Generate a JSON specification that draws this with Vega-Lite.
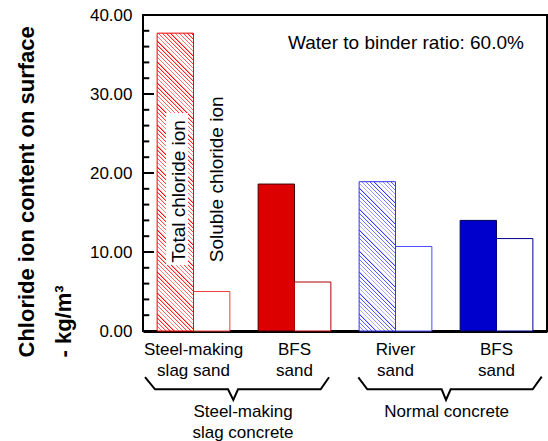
{
  "$schema": "https://vega.github.io/schema/vega-lite/v6.json",
  "width": 404,
  "height": 316,
  "autosize": {"type": "none"},
  "padding": {"left": 143, "top": 15, "right": 1, "bottom": 110},
  "background": "white",
  "config": {"view": {"stroke": "black", "strokeWidth": 2}, "font": "Liberation Sans", "text": {"font": "Liberation Sans", "color": "black"}},
  "datasets": {
    "bars": [
      {"mix": "Steel-making slag sand (SMS concrete)", "ion": "Total", "key": "s1t", "value": 37.7},
      {"mix": "Steel-making slag sand (SMS concrete)", "ion": "Soluble", "key": "s1s", "value": 5.0},
      {"mix": "BFS sand (SMS concrete)", "ion": "Total", "key": "s2t", "value": 18.6},
      {"mix": "BFS sand (SMS concrete)", "ion": "Soluble", "key": "s2s", "value": 6.2},
      {"mix": "River sand (normal concrete)", "ion": "Total", "key": "n1t", "value": 18.9},
      {"mix": "River sand (normal concrete)", "ion": "Soluble", "key": "n1s", "value": 10.7},
      {"mix": "BFS sand (normal concrete)", "ion": "Total", "key": "n2t", "value": 14.0},
      {"mix": "BFS sand (normal concrete)", "ion": "Soluble", "key": "n2s", "value": 11.7}
    ],
    "braces": [
      {"brace": "a", "u": 0.02, "value": -5.85},
      {"brace": "a", "u": 0.119, "value": -7.38},
      {"brace": "a", "u": 0.842, "value": -7.38},
      {"brace": "a", "u": 0.894, "value": -8.73},
      {"brace": "a", "u": 0.941, "value": -7.38},
      {"brace": "a", "u": 1.759, "value": -7.38},
      {"brace": "a", "u": 1.842, "value": -5.86},
      {"brace": "b", "u": 2.132, "value": -5.86},
      {"brace": "b", "u": 2.221, "value": -7.38},
      {"brace": "b", "u": 2.957, "value": -7.38},
      {"brace": "b", "u": 3.0, "value": -8.73},
      {"brace": "b", "u": 3.046, "value": -7.38},
      {"brace": "b", "u": 3.858, "value": -7.38},
      {"brace": "b", "u": 3.948, "value": -5.78}
    ],
    "yticks": [
      {"value": 2, "u": 0, "u2": 0.062}, {"value": 4, "u": 0, "u2": 0.062}, {"value": 6, "u": 0, "u2": 0.062}, {"value": 8, "u": 0, "u2": 0.062},
      {"value": 10, "u": 0, "u2": 0.109},
      {"value": 12, "u": 0, "u2": 0.062}, {"value": 14, "u": 0, "u2": 0.062}, {"value": 16, "u": 0, "u2": 0.062}, {"value": 18, "u": 0, "u2": 0.062},
      {"value": 20, "u": 0, "u2": 0.109},
      {"value": 22, "u": 0, "u2": 0.062}, {"value": 24, "u": 0, "u2": 0.062}, {"value": 26, "u": 0, "u2": 0.062}, {"value": 28, "u": 0, "u2": 0.062},
      {"value": 30, "u": 0, "u2": 0.109},
      {"value": 32, "u": 0, "u2": 0.062}, {"value": 34, "u": 0, "u2": 0.062}, {"value": 36, "u": 0, "u2": 0.062}, {"value": 38, "u": 0, "u2": 0.062}
    ],
    "box": [{"u": 0.228, "u2": 0.446, "value": 8.35, "value2": 27.6}],
    "rotated": [
      {"u": 0.416, "value": 8.65, "label": "Total chloride ion"},
      {"u": 0.789, "value": 8.7, "label": "Soluble chloride ion"}
    ],
    "note": [{"u": 1.436, "value": 35.66, "label": "Water to binder ratio: 60.0%"}],
    "groups": [
      {"u": 0.99, "value": -10.9, "label": "Steel-making"},
      {"u": 0.99, "value": -13.57, "label": "slag concrete"},
      {"u": 3.007, "value": -10.9, "label": "Normal concrete"}
    ]
  },
  "layer": [
    {
      "data": {"name": "bars"},
      "encoding": {
        "x": {
          "field": "mix", "type": "nominal", "sort": null,
          "scale": {"domain": ["Steel-making slag sand (SMS concrete)", "BFS sand (SMS concrete)", "River sand (normal concrete)", "BFS sand (normal concrete)"], "paddingInner": 0.28, "paddingOuter": 0.14},
          "axis": {
            "title": null,
            "labelExpr": "indexof(datum.value, 'Steel') == 0 ? ['Steel-making', 'slag sand'] : indexof(datum.value, 'River') == 0 ? ['River', 'sand'] : ['BFS', 'sand']",
            "labelAngle": 0, "labelFont": "Liberation Sans", "labelFontSize": 17, "labelColor": "black",
            "labelLineHeight": 21, "ticks": false, "tickSize": 0, "labelPadding": 10, "labelBaseline": "top",
            "domainColor": "black", "domainWidth": 3, "grid": false
          }
        },
        "xOffset": {"field": "ion", "type": "nominal", "scale": {"domain": ["Total", "Soluble"], "paddingInner": 0, "paddingOuter": 0}},
        "y": {
          "field": "value", "type": "quantitative", "stack": null,
          "scale": {"domain": [0, 40], "nice": false},
          "axis": {
            "orient": "left",
            "values": [0, 10, 20, 30, 40],
            "format": ".2f",
            "labelOverlap": false, "labelFont": "Liberation Sans", "labelFontSize": 17, "labelColor": "black",
            "labelPadding": 11, "ticks": false, "tickSize": 0,
            "domain": false, "grid": false,
            "title": ["Chloride ion content on surface", "- kg/m³"],
            "titleFont": "Liberation Sans", "titleFontSize": 22, "titleFontWeight": "bold", "titleColor": "black",
            "titleAngle": 270, "titleAlign": "left", "titleBaseline": "alphabetic",
            "titleX": -110, "titleY": 342, "titleLineHeight": 37.5
          }
        }
      },
      "layer": [
        {
          "transform": [{"filter": "datum.key != 's1t' && datum.key != 'n1t'"}],
          "mark": {"type": "bar", "strokeWidth": 1},
          "encoding": {
            "fill": {"field": "key", "type": "nominal", "legend": null, "scale": {"domain": ["s1s", "s2t", "s2s", "n1s", "n2t", "n2s"], "range": ["#ffffff", "#dd0000", "#ffffff", "#ffffff", "#0000cc", "#ffffff"]}},
            "stroke": {"field": "key", "type": "nominal", "legend": null, "scale": {"domain": ["s1s", "s2t", "s2s", "n1s", "n2t", "n2s"], "range": ["#f03c3c", "#440000", "#b00000", "#4a4aff", "#000055", "#000090"]}}
          }
        },
        {
          "transform": [{"filter": "datum.key == 's1t'"}],
          "mark": {"type": "bar", "stroke": "#ff0000", "strokeWidth": 1,
            "fill": {"gradient": "linear", "x1": 0, "y1": 1, "x2": 0.1359, "y2": -0.1117, "stops": [
{"offset":0,"color":"#f00"},{"offset":0.005,"color":"#fff"},{"offset":0.0125,"color":"#fff"},
{"offset":0.0125,"color":"#f00"},{"offset":0.0175,"color":"#fff"},{"offset":0.025,"color":"#fff"},
{"offset":0.025,"color":"#f00"},{"offset":0.03,"color":"#fff"},{"offset":0.0375,"color":"#fff"},
{"offset":0.0375,"color":"#f00"},{"offset":0.0425,"color":"#fff"},{"offset":0.05,"color":"#fff"},
{"offset":0.05,"color":"#f00"},{"offset":0.055,"color":"#fff"},{"offset":0.0625,"color":"#fff"},
{"offset":0.0625,"color":"#f00"},{"offset":0.0675,"color":"#fff"},{"offset":0.075,"color":"#fff"},
{"offset":0.075,"color":"#f00"},{"offset":0.08,"color":"#fff"},{"offset":0.0875,"color":"#fff"},
{"offset":0.0875,"color":"#f00"},{"offset":0.0925,"color":"#fff"},{"offset":0.1,"color":"#fff"},
{"offset":0.1,"color":"#f00"},{"offset":0.105,"color":"#fff"},{"offset":0.1125,"color":"#fff"},
{"offset":0.1125,"color":"#f00"},{"offset":0.1175,"color":"#fff"},{"offset":0.125,"color":"#fff"},
{"offset":0.125,"color":"#f00"},{"offset":0.13,"color":"#fff"},{"offset":0.1375,"color":"#fff"},
{"offset":0.1375,"color":"#f00"},{"offset":0.1425,"color":"#fff"},{"offset":0.15,"color":"#fff"},
{"offset":0.15,"color":"#f00"},{"offset":0.155,"color":"#fff"},{"offset":0.1625,"color":"#fff"},
{"offset":0.1625,"color":"#f00"},{"offset":0.1675,"color":"#fff"},{"offset":0.175,"color":"#fff"},
{"offset":0.175,"color":"#f00"},{"offset":0.18,"color":"#fff"},{"offset":0.1875,"color":"#fff"},
{"offset":0.1875,"color":"#f00"},{"offset":0.1925,"color":"#fff"},{"offset":0.2,"color":"#fff"},
{"offset":0.2,"color":"#f00"},{"offset":0.205,"color":"#fff"},{"offset":0.2125,"color":"#fff"},
{"offset":0.2125,"color":"#f00"},{"offset":0.2175,"color":"#fff"},{"offset":0.225,"color":"#fff"},
{"offset":0.225,"color":"#f00"},{"offset":0.23,"color":"#fff"},{"offset":0.2375,"color":"#fff"},
{"offset":0.2375,"color":"#f00"},{"offset":0.2425,"color":"#fff"},{"offset":0.25,"color":"#fff"},
{"offset":0.25,"color":"#f00"},{"offset":0.255,"color":"#fff"},{"offset":0.2625,"color":"#fff"},
{"offset":0.2625,"color":"#f00"},{"offset":0.2675,"color":"#fff"},{"offset":0.275,"color":"#fff"},
{"offset":0.275,"color":"#f00"},{"offset":0.28,"color":"#fff"},{"offset":0.2875,"color":"#fff"},
{"offset":0.2875,"color":"#f00"},{"offset":0.2925,"color":"#fff"},{"offset":0.3,"color":"#fff"},
{"offset":0.3,"color":"#f00"},{"offset":0.305,"color":"#fff"},{"offset":0.3125,"color":"#fff"},
{"offset":0.3125,"color":"#f00"},{"offset":0.3175,"color":"#fff"},{"offset":0.325,"color":"#fff"},
{"offset":0.325,"color":"#f00"},{"offset":0.33,"color":"#fff"},{"offset":0.3375,"color":"#fff"},
{"offset":0.3375,"color":"#f00"},{"offset":0.3425,"color":"#fff"},{"offset":0.35,"color":"#fff"},
{"offset":0.35,"color":"#f00"},{"offset":0.355,"color":"#fff"},{"offset":0.3625,"color":"#fff"},
{"offset":0.3625,"color":"#f00"},{"offset":0.3675,"color":"#fff"},{"offset":0.375,"color":"#fff"},
{"offset":0.375,"color":"#f00"},{"offset":0.38,"color":"#fff"},{"offset":0.3875,"color":"#fff"},
{"offset":0.3875,"color":"#f00"},{"offset":0.3925,"color":"#fff"},{"offset":0.4,"color":"#fff"},
{"offset":0.4,"color":"#f00"},{"offset":0.405,"color":"#fff"},{"offset":0.4125,"color":"#fff"},
{"offset":0.4125,"color":"#f00"},{"offset":0.4175,"color":"#fff"},{"offset":0.425,"color":"#fff"},
{"offset":0.425,"color":"#f00"},{"offset":0.43,"color":"#fff"},{"offset":0.4375,"color":"#fff"},
{"offset":0.4375,"color":"#f00"},{"offset":0.4425,"color":"#fff"},{"offset":0.45,"color":"#fff"},
{"offset":0.45,"color":"#f00"},{"offset":0.455,"color":"#fff"},{"offset":0.4625,"color":"#fff"},
{"offset":0.4625,"color":"#f00"},{"offset":0.4675,"color":"#fff"},{"offset":0.475,"color":"#fff"},
{"offset":0.475,"color":"#f00"},{"offset":0.48,"color":"#fff"},{"offset":0.4875,"color":"#fff"},
{"offset":0.4875,"color":"#f00"},{"offset":0.4925,"color":"#fff"},{"offset":0.5,"color":"#fff"},
{"offset":0.5,"color":"#f00"},{"offset":0.505,"color":"#fff"},{"offset":0.5125,"color":"#fff"},
{"offset":0.5125,"color":"#f00"},{"offset":0.5175,"color":"#fff"},{"offset":0.525,"color":"#fff"},
{"offset":0.525,"color":"#f00"},{"offset":0.53,"color":"#fff"},{"offset":0.5375,"color":"#fff"},
{"offset":0.5375,"color":"#f00"},{"offset":0.5425,"color":"#fff"},{"offset":0.55,"color":"#fff"},
{"offset":0.55,"color":"#f00"},{"offset":0.555,"color":"#fff"},{"offset":0.5625,"color":"#fff"},
{"offset":0.5625,"color":"#f00"},{"offset":0.5675,"color":"#fff"},{"offset":0.575,"color":"#fff"},
{"offset":0.575,"color":"#f00"},{"offset":0.58,"color":"#fff"},{"offset":0.5875,"color":"#fff"},
{"offset":0.5875,"color":"#f00"},{"offset":0.5925,"color":"#fff"},{"offset":0.6,"color":"#fff"},
{"offset":0.6,"color":"#f00"},{"offset":0.605,"color":"#fff"},{"offset":0.6125,"color":"#fff"},
{"offset":0.6125,"color":"#f00"},{"offset":0.6175,"color":"#fff"},{"offset":0.625,"color":"#fff"},
{"offset":0.625,"color":"#f00"},{"offset":0.63,"color":"#fff"},{"offset":0.6375,"color":"#fff"},
{"offset":0.6375,"color":"#f00"},{"offset":0.6425,"color":"#fff"},{"offset":0.65,"color":"#fff"},
{"offset":0.65,"color":"#f00"},{"offset":0.655,"color":"#fff"},{"offset":0.6625,"color":"#fff"},
{"offset":0.6625,"color":"#f00"},{"offset":0.6675,"color":"#fff"},{"offset":0.675,"color":"#fff"},
{"offset":0.675,"color":"#f00"},{"offset":0.68,"color":"#fff"},{"offset":0.6875,"color":"#fff"},
{"offset":0.6875,"color":"#f00"},{"offset":0.6925,"color":"#fff"},{"offset":0.7,"color":"#fff"},
{"offset":0.7,"color":"#f00"},{"offset":0.705,"color":"#fff"},{"offset":0.7125,"color":"#fff"},
{"offset":0.7125,"color":"#f00"},{"offset":0.7175,"color":"#fff"},{"offset":0.725,"color":"#fff"},
{"offset":0.725,"color":"#f00"},{"offset":0.73,"color":"#fff"},{"offset":0.7375,"color":"#fff"},
{"offset":0.7375,"color":"#f00"},{"offset":0.7425,"color":"#fff"},{"offset":0.75,"color":"#fff"},
{"offset":0.75,"color":"#f00"},{"offset":0.755,"color":"#fff"},{"offset":0.7625,"color":"#fff"},
{"offset":0.7625,"color":"#f00"},{"offset":0.7675,"color":"#fff"},{"offset":0.775,"color":"#fff"},
{"offset":0.775,"color":"#f00"},{"offset":0.78,"color":"#fff"},{"offset":0.7875,"color":"#fff"},
{"offset":0.7875,"color":"#f00"},{"offset":0.7925,"color":"#fff"},{"offset":0.8,"color":"#fff"},
{"offset":0.8,"color":"#f00"},{"offset":0.805,"color":"#fff"},{"offset":0.8125,"color":"#fff"},
{"offset":0.8125,"color":"#f00"},{"offset":0.8175,"color":"#fff"},{"offset":0.825,"color":"#fff"},
{"offset":0.825,"color":"#f00"},{"offset":0.83,"color":"#fff"},{"offset":0.8375,"color":"#fff"},
{"offset":0.8375,"color":"#f00"},{"offset":0.8425,"color":"#fff"},{"offset":0.85,"color":"#fff"},
{"offset":0.85,"color":"#f00"},{"offset":0.855,"color":"#fff"},{"offset":0.8625,"color":"#fff"},
{"offset":0.8625,"color":"#f00"},{"offset":0.8675,"color":"#fff"},{"offset":0.875,"color":"#fff"},
{"offset":0.875,"color":"#f00"},{"offset":0.88,"color":"#fff"},{"offset":0.8875,"color":"#fff"},
{"offset":0.8875,"color":"#f00"},{"offset":0.8925,"color":"#fff"},{"offset":0.9,"color":"#fff"},
{"offset":0.9,"color":"#f00"},{"offset":0.905,"color":"#fff"},{"offset":0.9125,"color":"#fff"},
{"offset":0.9125,"color":"#f00"},{"offset":0.9175,"color":"#fff"},{"offset":0.925,"color":"#fff"},
{"offset":0.925,"color":"#f00"},{"offset":0.93,"color":"#fff"},{"offset":0.9375,"color":"#fff"},
{"offset":0.9375,"color":"#f00"},{"offset":0.9425,"color":"#fff"},{"offset":0.95,"color":"#fff"},
{"offset":0.95,"color":"#f00"},{"offset":0.955,"color":"#fff"},{"offset":0.9625,"color":"#fff"},
{"offset":0.9625,"color":"#f00"},{"offset":0.9675,"color":"#fff"},{"offset":0.975,"color":"#fff"},
{"offset":0.975,"color":"#f00"},{"offset":0.98,"color":"#fff"},{"offset":0.9875,"color":"#fff"},
{"offset":0.9875,"color":"#f00"},{"offset":0.9925,"color":"#fff"},{"offset":1,"color":"#fff"}
            ]}
          }
        },
        {
          "transform": [{"filter": "datum.key == 'n1t'"}],
          "mark": {"type": "bar", "stroke": "#3333ee", "strokeWidth": 1,
            "fill": {"gradient": "linear", "x1": 0, "y1": 1, "x2": 0.3237, "y2": -0.3277, "stops": [
{"offset":0,"color":"#2b2bff"},{"offset":0.0065,"color":"#fff"},{"offset":0.02,"color":"#fff"},
{"offset":0.02,"color":"#2b2bff"},{"offset":0.0265,"color":"#fff"},{"offset":0.04,"color":"#fff"},
{"offset":0.04,"color":"#2b2bff"},{"offset":0.0465,"color":"#fff"},{"offset":0.06,"color":"#fff"},
{"offset":0.06,"color":"#2b2bff"},{"offset":0.0665,"color":"#fff"},{"offset":0.08,"color":"#fff"},
{"offset":0.08,"color":"#2b2bff"},{"offset":0.0865,"color":"#fff"},{"offset":0.1,"color":"#fff"},
{"offset":0.1,"color":"#2b2bff"},{"offset":0.1065,"color":"#fff"},{"offset":0.12,"color":"#fff"},
{"offset":0.12,"color":"#2b2bff"},{"offset":0.1265,"color":"#fff"},{"offset":0.14,"color":"#fff"},
{"offset":0.14,"color":"#2b2bff"},{"offset":0.1465,"color":"#fff"},{"offset":0.16,"color":"#fff"},
{"offset":0.16,"color":"#2b2bff"},{"offset":0.1665,"color":"#fff"},{"offset":0.18,"color":"#fff"},
{"offset":0.18,"color":"#2b2bff"},{"offset":0.1865,"color":"#fff"},{"offset":0.2,"color":"#fff"},
{"offset":0.2,"color":"#2b2bff"},{"offset":0.2065,"color":"#fff"},{"offset":0.22,"color":"#fff"},
{"offset":0.22,"color":"#2b2bff"},{"offset":0.2265,"color":"#fff"},{"offset":0.24,"color":"#fff"},
{"offset":0.24,"color":"#2b2bff"},{"offset":0.2465,"color":"#fff"},{"offset":0.26,"color":"#fff"},
{"offset":0.26,"color":"#2b2bff"},{"offset":0.2665,"color":"#fff"},{"offset":0.28,"color":"#fff"},
{"offset":0.28,"color":"#2b2bff"},{"offset":0.2865,"color":"#fff"},{"offset":0.3,"color":"#fff"},
{"offset":0.3,"color":"#2b2bff"},{"offset":0.3065,"color":"#fff"},{"offset":0.32,"color":"#fff"},
{"offset":0.32,"color":"#2b2bff"},{"offset":0.3265,"color":"#fff"},{"offset":0.34,"color":"#fff"},
{"offset":0.34,"color":"#2b2bff"},{"offset":0.3465,"color":"#fff"},{"offset":0.36,"color":"#fff"},
{"offset":0.36,"color":"#2b2bff"},{"offset":0.3665,"color":"#fff"},{"offset":0.38,"color":"#fff"},
{"offset":0.38,"color":"#2b2bff"},{"offset":0.3865,"color":"#fff"},{"offset":0.4,"color":"#fff"},
{"offset":0.4,"color":"#2b2bff"},{"offset":0.4065,"color":"#fff"},{"offset":0.42,"color":"#fff"},
{"offset":0.42,"color":"#2b2bff"},{"offset":0.4265,"color":"#fff"},{"offset":0.44,"color":"#fff"},
{"offset":0.44,"color":"#2b2bff"},{"offset":0.4465,"color":"#fff"},{"offset":0.46,"color":"#fff"},
{"offset":0.46,"color":"#2b2bff"},{"offset":0.4665,"color":"#fff"},{"offset":0.48,"color":"#fff"},
{"offset":0.48,"color":"#2b2bff"},{"offset":0.4865,"color":"#fff"},{"offset":0.5,"color":"#fff"},
{"offset":0.5,"color":"#2b2bff"},{"offset":0.5065,"color":"#fff"},{"offset":0.52,"color":"#fff"},
{"offset":0.52,"color":"#2b2bff"},{"offset":0.5265,"color":"#fff"},{"offset":0.54,"color":"#fff"},
{"offset":0.54,"color":"#2b2bff"},{"offset":0.5465,"color":"#fff"},{"offset":0.56,"color":"#fff"},
{"offset":0.56,"color":"#2b2bff"},{"offset":0.5665,"color":"#fff"},{"offset":0.58,"color":"#fff"},
{"offset":0.58,"color":"#2b2bff"},{"offset":0.5865,"color":"#fff"},{"offset":0.6,"color":"#fff"},
{"offset":0.6,"color":"#2b2bff"},{"offset":0.6065,"color":"#fff"},{"offset":0.62,"color":"#fff"},
{"offset":0.62,"color":"#2b2bff"},{"offset":0.6265,"color":"#fff"},{"offset":0.64,"color":"#fff"},
{"offset":0.64,"color":"#2b2bff"},{"offset":0.6465,"color":"#fff"},{"offset":0.66,"color":"#fff"},
{"offset":0.66,"color":"#2b2bff"},{"offset":0.6665,"color":"#fff"},{"offset":0.68,"color":"#fff"},
{"offset":0.68,"color":"#2b2bff"},{"offset":0.6865,"color":"#fff"},{"offset":0.7,"color":"#fff"},
{"offset":0.7,"color":"#2b2bff"},{"offset":0.7065,"color":"#fff"},{"offset":0.72,"color":"#fff"},
{"offset":0.72,"color":"#2b2bff"},{"offset":0.7265,"color":"#fff"},{"offset":0.74,"color":"#fff"},
{"offset":0.74,"color":"#2b2bff"},{"offset":0.7465,"color":"#fff"},{"offset":0.76,"color":"#fff"},
{"offset":0.76,"color":"#2b2bff"},{"offset":0.7665,"color":"#fff"},{"offset":0.78,"color":"#fff"},
{"offset":0.78,"color":"#2b2bff"},{"offset":0.7865,"color":"#fff"},{"offset":0.8,"color":"#fff"},
{"offset":0.8,"color":"#2b2bff"},{"offset":0.8065,"color":"#fff"},{"offset":0.82,"color":"#fff"},
{"offset":0.82,"color":"#2b2bff"},{"offset":0.8265,"color":"#fff"},{"offset":0.84,"color":"#fff"},
{"offset":0.84,"color":"#2b2bff"},{"offset":0.8465,"color":"#fff"},{"offset":0.86,"color":"#fff"},
{"offset":0.86,"color":"#2b2bff"},{"offset":0.8665,"color":"#fff"},{"offset":0.88,"color":"#fff"},
{"offset":0.88,"color":"#2b2bff"},{"offset":0.8865,"color":"#fff"},{"offset":0.9,"color":"#fff"}
            ]}
          }
        }
      ]
    },
    {
      "encoding": {
        "x": {"field": "u", "type": "quantitative", "scale": {"domain": [0, 4], "nice": false, "zero": false}, "axis": null},
        "y": {"field": "value", "type": "quantitative", "scale": {"domain": [0, 40], "nice": false}, "axis": null}
      },
      "layer": [
        {
          "data": {"name": "yticks"},
          "mark": {"type": "rule", "color": "black", "strokeWidth": 2},
          "encoding": {
            "x2": {"field": "u2"}
          }
        },
        {
          "data": {"name": "box"},
          "mark": {"type": "rect", "fill": "white"},
          "encoding": {
            "x2": {"field": "u2"},
            "y2": {"field": "value2"}
          }
        },
        {
          "data": {"name": "braces"},
          "mark": {"type": "line", "color": "black", "strokeWidth": 2, "clip": false},
          "encoding": {
            "detail": {"field": "brace"}
          }
        },
        {
          "data": {"name": "rotated"},
          "mark": {"type": "text", "angle": 270, "align": "left", "baseline": "alphabetic", "fontSize": 19, "font": "Liberation Sans", "color": "black"},
          "encoding": {
            "text": {"field": "label"}
          }
        },
        {
          "data": {"name": "note"},
          "mark": {"type": "text", "align": "left", "baseline": "alphabetic", "fontSize": 19, "font": "Liberation Sans", "color": "black"},
          "encoding": {
            "text": {"field": "label"}
          }
        },
        {
          "data": {"name": "groups"},
          "mark": {"type": "text", "align": "center", "baseline": "alphabetic", "fontSize": 17, "font": "Liberation Sans", "color": "black", "clip": false},
          "encoding": {
            "text": {"field": "label"}
          }
        }
      ]
    }
  ],
  "resolve": {"scale": {"x": "independent", "y": "independent"}, "axis": {"x": "independent", "y": "independent"}}
}
